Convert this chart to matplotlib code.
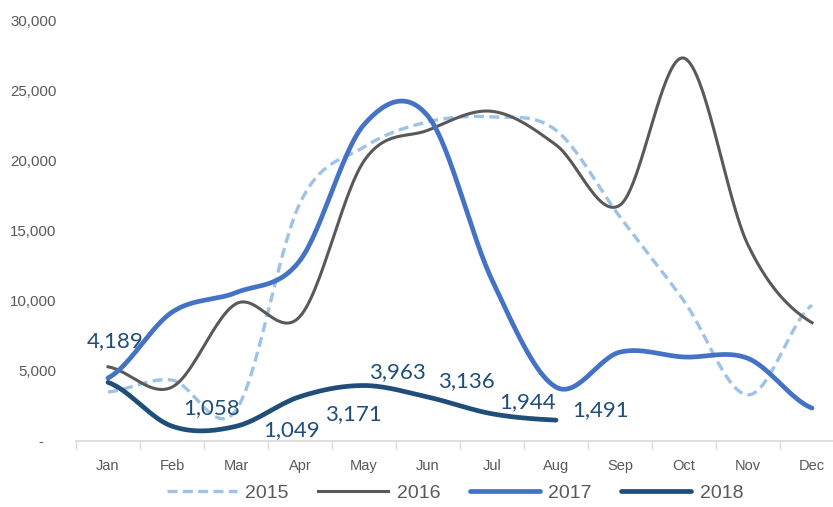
import numpy as np
import matplotlib
matplotlib.use("Agg")
import matplotlib.pyplot as plt
from matplotlib.ticker import FixedLocator

months = ["Jan", "Feb", "Mar", "Apr", "May", "Jun", "Jul", "Aug", "Sep", "Oct", "Nov", "Dec"]
y2015 = [3500, 4350, 2200, 17000, 21000, 22800, 23150, 22200, 16000, 10000, 3300, 9700]
y2016 = [5300, 3850, 9800, 8900, 20000, 22200, 23550, 21150, 16850, 27350, 14000, 8450]
y2017 = [4500, 9200, 10600, 12900, 22600, 23200, 11500, 3850, 6350, 6000, 5900, 2350]
y2018 = [4189, 1058, 1049, 3171, 3963, 3136, 1944, 1491]
yticks = [0, 5000, 10000, 15000, 20000, 25000, 30000]
ytick_labels = ["-   ", "5,000", "10,000", "15,000", "20,000", "25,000", "30,000"]

# label offsets for 2018 (pixels), like the manual placement in the original
label_off = [(7, 41), (40, 18), (56, -4), (53, -17), (33, 13), (38, 16), (36, 12), (45, 10)]


def smooth(vals, n=30):
    # catmull-rom curve through the points (same look as excel "smoothed line")
    p = np.asarray(vals, dtype=float)
    p = np.concatenate([[p[0]], p, [p[-1]]])
    xs, ys = [], []
    for i in range(1, len(p) - 2):
        t = np.linspace(0, 1, n, endpoint=(i == len(p) - 3))
        p0, p1, p2, p3 = p[i - 1], p[i], p[i + 1], p[i + 2]
        y = 0.5 * ((2 * p1) + (-p0 + p2) * t + (2 * p0 - 5 * p1 + 4 * p2 - p3) * t ** 2
                   + (-p0 + 3 * p1 - 3 * p2 + p3) * t ** 3)
        xs.append(i - 1 + t)
        ys.append(y)
    return np.concatenate(xs), np.concatenate(ys)


fig = plt.figure(figsize=(8.33, 5.07), dpi=100)
ax = fig.add_axes([76 / 833, 66 / 507, 768 / 833, 420 / 507])

x, y = smooth(y2015)
ax.plot(x, y, color="#9DC3E6", lw=2.4, ls=(0, (3, 1.6)), label="2015")
x, y = smooth(y2016)
ax.plot(x, y, color="#595959", lw=2.2, label="2016")
x, y = smooth(y2017)
ax.plot(x, y, color="#4472C4", lw=3.4, label="2017", solid_capstyle="round")
x, y = smooth(y2018)
ax.plot(x, y, color="#1F4E79", lw=3.4, label="2018", solid_capstyle="round")

for i, v in enumerate(y2018):
    ax.annotate(f"{v:,}", (i, v), xytext=label_off[i], textcoords="offset pixels",
                ha="center", va="center", fontsize=16, family="Lato", color="#1F4E79")

ax.set_xlim(-0.5, 11.5)
ax.set_ylim(0, 30000)
ax.set_xticks(range(12))
ax.set_xticklabels(months)
ax.xaxis.set_minor_locator(FixedLocator(np.arange(-0.5, 12, 1)))
ax.tick_params(axis="x", which="major", length=0, pad=13, labelsize=10.5, labelcolor="#595959")
ax.tick_params(axis="x", which="minor", length=6, width=1, color="#D9D9D9")
ax.set_yticks(yticks)
ax.set_yticklabels(ytick_labels)
ax.tick_params(axis="y", length=0, pad=14, labelsize=10.8, labelcolor="#595959")
for lab in ax.get_xticklabels() + ax.get_yticklabels():
    lab.set_family("Liberation Sans")

for s in ["top", "right", "left"]:
    ax.spines[s].set_visible(False)
ax.spines["bottom"].set_color("#D9D9D9")
ax.spines["bottom"].set_linewidth(1.2)

leg = fig.legend(loc="center", bbox_to_anchor=(455 / 833, 1 - 493 / 507), ncol=4, frameon=False,
                 prop={"family": "Liberation Sans", "size": 14}, handlelength=3.6,
                 handletextpad=0.45, columnspacing=1.5)
for t in leg.get_texts():
    t.set_color("#595959")

fig.savefig("out.png", dpi=100)
